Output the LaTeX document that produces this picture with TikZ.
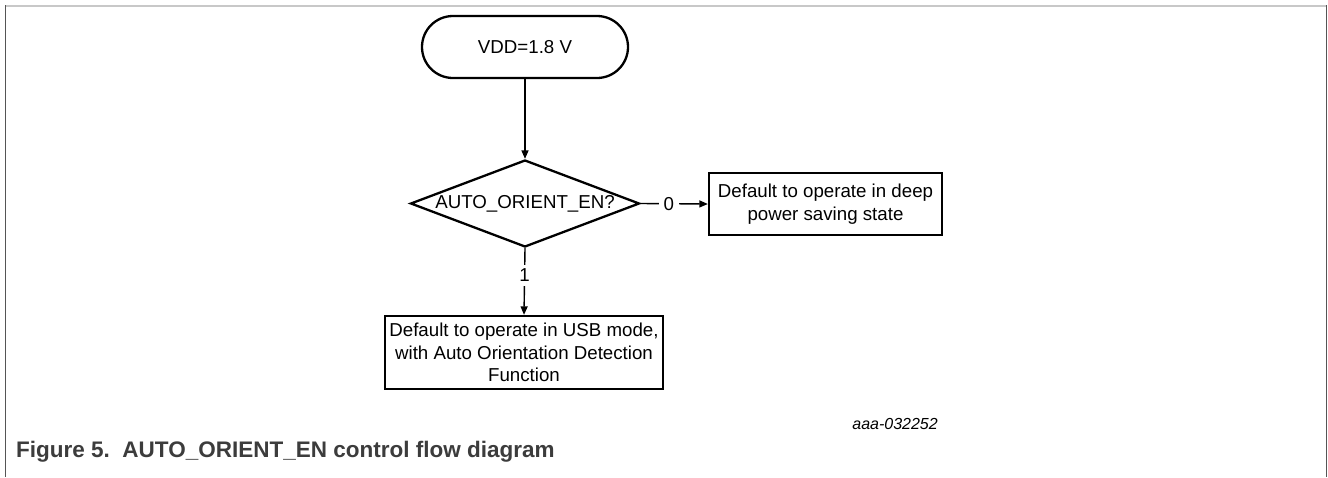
\documentclass[tikz,border=0pt]{standalone}
\usepackage{fontspec}
\setmainfont{Liberation Sans}
\usetikzlibrary{shapes.geometric,arrows.meta}
\definecolor{framedark}{HTML}{555555}
\definecolor{framelight}{HTML}{C8C8C8}
\definecolor{captiongray}{HTML}{3C3C3C}
\begin{document}
\begin{tikzpicture}[x=1pt,y=-1pt,
  txt/.style={font=\fontsize{18.7}{22.5}\selectfont, inner sep=0pt, align=center},
  term/.style={txt, draw, line width=2.3pt, rounded corners=31pt, minimum width=206pt, minimum height=62pt},
  decis/.style={txt, draw, line width=2.3pt, diamond, aspect=2.63, minimum width=229pt, minimum height=87pt},
  procbox/.style={txt, draw, line width=2.3pt, rectangle},
  conn/.style={line width=1.4pt, -{Triangle[length=8.5pt,width=7pt]}},
  lbl/.style={txt, fill=white, inner xsep=0pt, inner ysep=4pt}
]
\useasboundingbox (0,0) rectangle (1328,477);
% frame
\draw[framelight, line width=2pt] (5,6) -- (1327.3,6);
\draw[framedark, line width=1.4pt] (5.3,5) -- (5.3,477);
\draw[framedark, line width=1.4pt] (1326.3,5) -- (1326.3,477);

\node[term] (start) at (525,47) {VDD=1.8 V};
\node[decis] (dec) at (525,203.5) {AUTO\_ORIENT\_EN?};
\node[procbox, minimum width=233pt, minimum height=62pt] (deep) at (825.5,204)
  {Default to operate in deep\\power saving state};
\node[procbox, minimum width=278pt, minimum height=73pt] (usb) at (524,352.5)
  {Default to operate in USB mode,\\with Auto Orientation Detection\\Function};

\draw[conn] (start.south) -- (dec.north);
\draw[conn] (dec.east) -- node[pos=0.42, txt, fill=white, inner xsep=5pt, inner ysep=0pt] (l0) {0} (deep.west);
\draw[conn] (dec.south) -- node[pos=0.41, lbl] (l1) {1} (usb.north);

\node[anchor=base east, inner sep=0pt, font=\fontsize{16}{19}\selectfont\itshape] (fig) at (938,429) {aaa-032252};
\node[anchor=base west, inner sep=0pt, text=captiongray, font=\fontsize{22.5}{26}\selectfont\bfseries] (cap) at (16,457)
  {Figure 5.\ \ AUTO\_ORIENT\_EN control flow diagram};
\end{tikzpicture}
\end{document}
